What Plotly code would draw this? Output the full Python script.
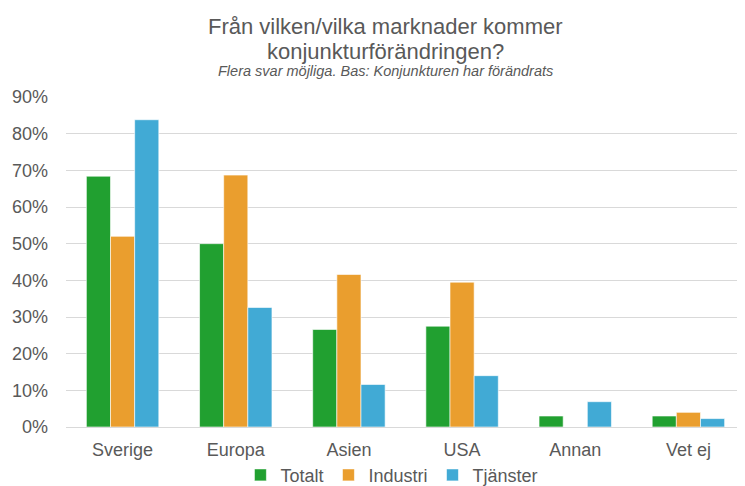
import plotly.graph_objects as go

categories = ["Sverige", "Europa", "Asien", "USA", "Annan", "Vet ej"]
totalt = [0.684, 0.500, 0.266, 0.275, 0.030, 0.030]
industri = [0.520, 0.687, 0.416, 0.395, 0.0, 0.040]
tjanster = [0.838, 0.326, 0.116, 0.140, 0.069, 0.023]
series_names = ["Totalt", "Industri", "Tjänster"]
colors = ["#21A030", "#EA9E2E", "#41AAD5"]

title_line1 = "Från vilken/vilka marknader kommer"
title_line2 = "konjunkturförändringen?"
subtitle = "Flera svar möjliga. Bas: Konjunkturen har förändrats"

fig = go.Figure()
for name, vals, col in zip(series_names, [totalt, industri, tjanster], colors):
    fig.add_trace(go.Bar(
        x=categories, y=vals, name=name,
        marker=dict(color=col, line=dict(color="rgba(255,255,255,0.6)", width=1)),
    ))

font_fam = "Liberation Sans, Arial, sans-serif"
grey = "#595959"
# the page body adds an 8px margin, so the figure is 8px smaller and offset
fig.update_layout(
    width=737, height=478,
    paper_bgcolor="white", plot_bgcolor="white",
    barmode="group", bargap=0.36, bargroupgap=0,
    margin=dict(l=58, r=0, t=89, b=59, autoexpand=False),
    font=dict(family=font_fam, color=grey, size=18),
    yaxis=dict(
        range=[0, 0.9], tickformat=".0%", dtick=0.1,
        gridcolor="#D9D9D9", gridwidth=1, zeroline=False,
        showline=False, ticks="", ticklabelstandoff=17,
        tickfont=dict(size=18, color=grey),
    ),
    xaxis=dict(
        showline=True, linecolor="#D9D9D9", linewidth=1,
        ticks="", ticklabelstandoff=6, tickfont=dict(size=18, color=grey),
    ),
    legend=dict(
        orientation="h", xref="paper", yref="paper",
        x=0.48, xanchor="center", y=-0.146, yanchor="middle",
        bgcolor="rgba(0,0,0,0)",
        font=dict(size=18, color=grey), itemwidth=30,
        traceorder="normal",
    ),
    showlegend=True,
    annotations=[
        dict(text=title_line1, xref="paper", yref="paper", x=0.47, y=1.213,
             xanchor="center", yanchor="middle", showarrow=False,
             font=dict(size=22, color=grey)),
        dict(text=title_line2, xref="paper", yref="paper", x=0.47, y=1.139,
             xanchor="center", yanchor="middle", showarrow=False,
             font=dict(size=22, color=grey)),
        dict(text="<i>" + subtitle + "</i>", xref="paper", yref="paper", x=0.47, y=1.079,
             xanchor="center", yanchor="middle", showarrow=False,
             font=dict(size=14.5, color=grey)),
    ],
)

fig.write_html("out.html")
